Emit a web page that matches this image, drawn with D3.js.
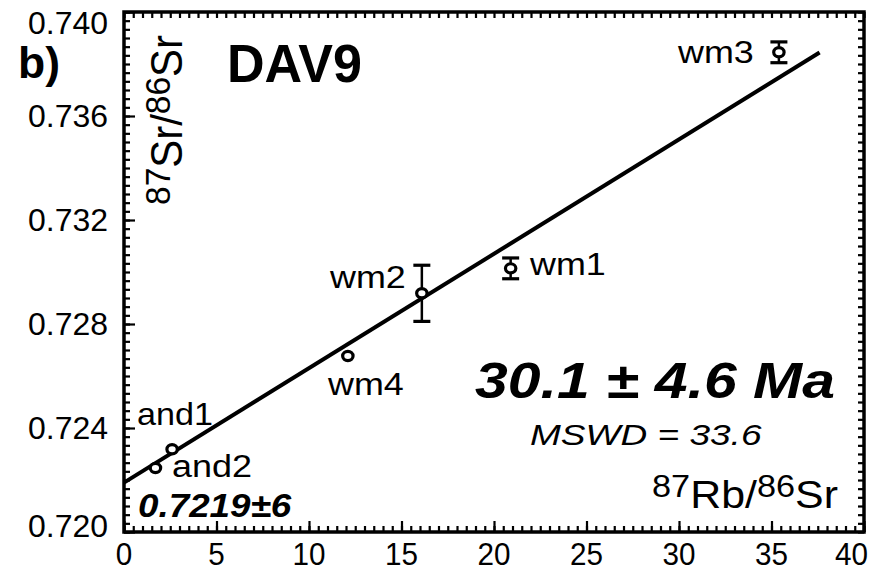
<!DOCTYPE html>
<html>
<head>
<meta charset="utf-8">
<script src="https://cdn.jsdelivr.net/npm/d3@7"></script>
<style>
  html, body { margin: 0; padding: 0; background: #fff; }
  svg { display: block; }
  text { font-family: "Liberation Sans", Arial, Helvetica, sans-serif; fill: #000; }
</style>
</head>
<body>
<svg id="chart" width="883" height="576"></svg>
<script>
// ---------------- data ----------------
const samples = ["and1", "and2", "wm4", "wm2", "wm1", "wm3"];
const rbSr    = [2.6, 1.7, 12.1, 16.1, 20.9, 35.4];          // 87Rb/86Sr
const srSr    = [0.72318, 0.72246, 0.72677, 0.72918, 0.73014, 0.73845]; // 87Sr/86Sr
const srErr   = [0, 0, 0, 0.00108, 0.0004, 0.0004];
const xTicks  = [0, 5, 10, 15, 20, 25, 30, 35, 40];
const yTicks  = [0.720, 0.724, 0.728, 0.732, 0.736, 0.740];
const isoIntercept = 0.7219;
const isoSlope     = 0.000440;
const isoXEnd      = 37.6;

(function () {
// ---------------- layout ----------------
const svg = d3.select("#chart");
const X0 = 124, X1 = 864, Y0 = 532, Y1 = 12;
const x = d3.scaleLinear().domain([0, 40]).range([X0, X1]);
const y = d3.scaleLinear().domain([0.720, 0.740]).range([Y0, Y1]);

// build text content with superscripts (dy carried to next normal run)
function fillParts(t, parts, size) {
  let pending = 0;
  parts.forEach(p => {
    if (typeof p === "string") {
      t.append("tspan").attr("dy", pending).text(p);
      pending = 0;
    } else {
      t.append("tspan").attr("font-size", size * p.scale).attr("dy", -p.raise).text(p.sup);
      pending = p.raise;
    }
  });
}

// helper: text fitted to a measured width (left x, baseline y)
function fitText(parts, px, py, size, opts) {
  opts = opts || {};
  const t = svg.append("text")
    .attr("font-size", size)
    .attr("font-weight", opts.weight || "normal")
    .attr("font-style", opts.style || "normal");
  fillParts(t, parts, size);
  const w = t.node().getBBox().width;
  const sx = opts.width ? opts.width / w : 1;
  let tx = px;
  if (opts.anchor === "end") tx = px - w * sx;
  if (opts.anchor === "middle") tx = px - w * sx / 2;
  t.attr("transform", `translate(${tx},${py}) scale(${sx},1)`);
  return t;
}

// ---------------- axes (inward ticks, framed box) ----------------
const axisG = svg.append("g");
const xMinor = d3.range(0, 40.001, 0.5);
const yMinor = d3.range(0, 60.5, 1).map(i => 0.720 + i * 0.004 / 12);

const axB = d3.axisBottom(x).tickValues(xMinor).tickSize(-6).tickFormat("");
const axT = d3.axisTop(x).tickValues(xMinor).tickSize(-6).tickFormat("");
const axL = d3.axisLeft(y).tickValues(yMinor).tickSize(-6).tickFormat("");
const axR = d3.axisRight(y).tickValues(yMinor).tickSize(-6).tickFormat("");

axisG.append("g").attr("transform", `translate(0,${Y0})`).call(axB);
axisG.append("g").attr("transform", `translate(0,${Y1})`).call(axT);
axisG.append("g").attr("transform", `translate(${X0},0)`).call(axL);
axisG.append("g").attr("transform", `translate(${X1},0)`).call(axR);
// major ticks longer
axisG.append("g").attr("transform", `translate(0,${Y0})`)
  .call(d3.axisBottom(x).tickValues(xTicks).tickSize(-11).tickFormat(""));
axisG.append("g").attr("transform", `translate(${X0},0)`)
  .call(d3.axisLeft(y).tickValues(yTicks).tickSize(-11).tickFormat(""));
axisG.selectAll(".domain").remove();
axisG.selectAll(".tick line").attr("stroke", "#000").attr("stroke-width", 2.2);

svg.append("rect")
  .attr("x", X0).attr("y", Y1).attr("width", X1 - X0).attr("height", Y0 - Y1)
  .attr("fill", "none").attr("stroke", "#000").attr("stroke-width", 3.5);

// tick labels
yTicks.forEach((v, i) => {
  let cy = y(v);
  if (i === 0) cy -= 6;
  if (i === yTicks.length - 1) cy += 11;
  fitText([d3.format(".3f")(v)], 108, cy + 11, 31, { width: 80, anchor: "end" });
});
xTicks.forEach((v, i) => {
  const w = String(v).length * 16.5;
  if (i === xTicks.length - 1) {
    fitText([String(v)], 868, 565, 31, { width: w, anchor: "end" });
  } else {
    fitText([String(v)], x(v), 565, 31, { width: w, anchor: "middle" });
  }
});

// ---------------- isochron line ----------------
svg.append("line")
  .attr("x1", x(0)).attr("y1", y(isoIntercept))
  .attr("x2", x(isoXEnd)).attr("y2", y(isoIntercept + isoSlope * isoXEnd))
  .attr("stroke", "#000").attr("stroke-width", 4);

// ---------------- data points with error bars ----------------
const pts = svg.append("g");
samples.forEach((s, i) => {
  const cx = x(rbSr[i]), cy = y(srSr[i]);
  if (srErr[i] > 0) {
    const yt = y(srSr[i] + srErr[i]), yb = y(srSr[i] - srErr[i]);
    pts.append("line").attr("x1", cx).attr("x2", cx).attr("y1", yt).attr("y2", yb)
      .attr("stroke", "#000").attr("stroke-width", 2.5);
    [yt, yb].forEach(yy => pts.append("line")
      .attr("x1", cx - 8.5).attr("x2", cx + 8.5).attr("y1", yy).attr("y2", yy)
      .attr("stroke", "#000").attr("stroke-width", 3.2));
  }
  pts.append("ellipse").attr("cx", cx).attr("cy", cy).attr("rx", 5.2).attr("ry", 4.6)
    .attr("fill", "#fff").attr("stroke", "#000").attr("stroke-width", 3.2);
});

// ---------------- point labels ----------------
fitText(["wm3"], 678, 63, 31, { width: 77 });
fitText(["wm2"], 330, 288, 31, { width: 77 });
fitText(["wm1"], 530, 275, 31, { width: 77 });
fitText(["wm4"], 328, 395, 31, { width: 77 });
fitText(["and1"], 137, 425, 31, { width: 76 });
fitText(["and2"], 172, 477, 31, { width: 80 });

// ---------------- annotations ----------------
fitText(["b)"], 18, 78, 44, { weight: "bold", width: 42 });
fitText(["DAV9"], 227, 82, 53, { weight: "bold", width: 135 });
fitText(["30.1 \u00b1 4.6 Ma"], 475, 398, 50, { weight: "bold", style: "italic", width: 360 });
fitText(["MSWD = 33.6"], 530, 445, 30, { style: "italic", width: 232 });
fitText(["0.7219\u00b16"], 138, 517, 33, { weight: "bold", style: "italic", width: 154 });

// axis titles
fitText([{ sup: "87", scale: 0.8, raise: 11 }, "Rb/", { sup: "86", scale: 0.8, raise: 11 }, "Sr"],
  652, 508, 39, { width: 186 });

// y title (rotated)
const size = 40;
const t = svg.append("text").attr("font-size", size);
fillParts(t, [{ sup: "87", scale: 0.8, raise: 11 }, "Sr/", { sup: "86", scale: 0.8, raise: 11 }, "Sr"], size);
const w = t.node().getBBox().width;
const s = 170 / w;
t.attr("transform", `translate(182,205) scale(1.12,1) rotate(-90) scale(${s},1)`);
})();
</script>
</body>
</html>
